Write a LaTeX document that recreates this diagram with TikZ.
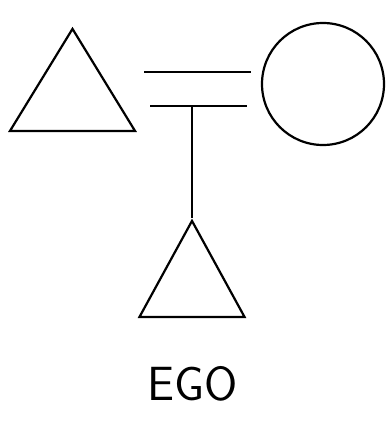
\documentclass[tikz,border=0pt]{standalone}
\usetikzlibrary{shapes.geometric}
\tikzset{
  male/.style 2 args={draw, line width=2.2pt, isosceles triangle, isosceles triangle stretches,
    shape border rotate=90, inner sep=0pt, minimum width=#1, minimum height=#2, anchor=lower side},
  female/.style={draw, line width=2.2pt, circle, inner sep=0pt, minimum size=122pt},
  marriage/.style={line width=#1},
  descent/.style={line width=1.8pt},
  egotext/.style={font=\sffamily\fontsize{48}{48}\selectfont, inner sep=0pt},
}

\begin{document}
\begin{tikzpicture}[x=1pt, y=-1pt]
    \useasboundingbox (0,0) rectangle (390,425);
    \node[male={125pt}{102pt}] (father) at (72.5,132) {};
    \node[female] (mother) at (323,84) {};
    \node[male={105pt}{96pt}] (ego) at (192,318) {};
    % double marriage line
    \coordinate (wedA1) at (144,72);
    \coordinate (wedA2) at (251,72);
    \coordinate (wedB1) at (150,106);
    \coordinate (wedB2) at (247,106);
    \draw[marriage=2.8pt] (wedA1) -- (wedA2);
    \draw[marriage=2.3pt] (wedB1) -- (wedB2);
    \coordinate (drop) at (ego.apex |- wedB1);
    \draw[descent] (drop) -- (ego.apex);
    \node[egotext] (egolabel) at (193,384) {EGO};
  \end{tikzpicture}
\end{document}
